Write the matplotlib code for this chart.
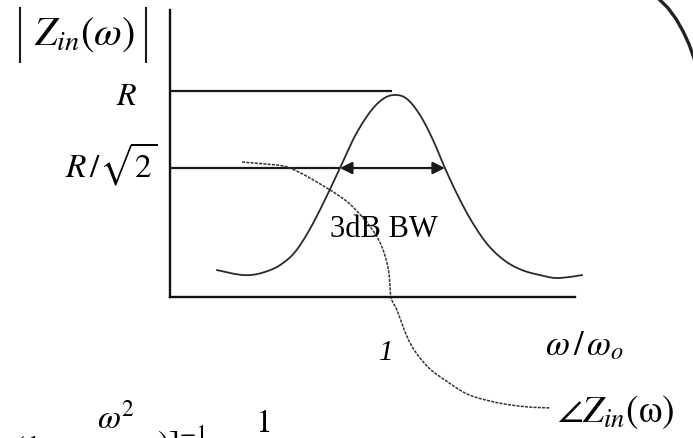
import numpy as np
import matplotlib
matplotlib.use("Agg")
import matplotlib.pyplot as plt

plt.rcParams["mathtext.fontset"] = "stix"
plt.rcParams["font.family"] = ["Liberation Serif", "DejaVu Serif"]

# Normalised frequency w/w0 and |Zin| (in units of R) for the resonance curve
mag_w = [0.213, 0.294, 0.362, 0.430, 0.498, 0.566, 0.633, 0.701, 0.769, 0.837,
         0.905, 0.964, 1.018, 1.072, 1.131, 1.190, 1.244, 1.303, 1.367, 1.439,
         1.516, 1.593, 1.674, 1.742, 1.810, 1.864]
mag_z = [0.319, 0.304, 0.300, 0.312, 0.338, 0.388, 0.475, 0.586, 0.707, 0.829,
         0.920, 0.970, 0.985, 0.970, 0.909, 0.814, 0.707, 0.601, 0.502, 0.414,
         0.354, 0.319, 0.300, 0.289, 0.293, 0.300]

# Phase of Zin (sketched on the same frame, crossing the axis at w/w0 = 1)
ph_w = [0.326, 0.430, 0.543, 0.710, 0.828, 0.937, 0.986, 1.000, 1.027, 1.086,
        1.163, 1.244, 1.344, 1.448, 1.543, 1.629, 1.719]
ph_z = [0.730, 0.722, 0.707, 0.631, 0.559, 0.445, 0.331, 0.217, 0.167, 0.042,
        -0.046, -0.099, -0.152, -0.179, -0.194, -0.202, -0.205]

# Levels marked on the vertical axis
level_R = 1.0
level_3dB = 1 / np.sqrt(2)
bw_edges = [0.769, 1.244]
r_line_end = 1.005

# Part of the circuit outline at the top right
arc_x = [2.217, 2.253, 2.290, 2.321, 2.348, 2.371, 2.389]
arc_y = [1.346, 1.316, 1.274, 1.228, 1.179, 1.125, 1.072]


def smooth(x, y, n=12):
    """Catmull-Rom path through the given points, for a smooth stroke."""
    p = np.column_stack([x, y]).astype(float)
    p = np.vstack([2 * p[0] - p[1], p, 2 * p[-1] - p[-2]])
    out = []
    t = np.linspace(0, 1, n, endpoint=False)[:, None]
    for i in range(1, len(p) - 2):
        p0, p1, p2, p3 = p[i - 1], p[i], p[i + 1], p[i + 2]
        seg = 0.5 * ((2 * p1) + (-p0 + p2) * t + (2 * p0 - 5 * p1 + 4 * p2 - p3) * t ** 2
                     + (-p0 + 3 * p1 - 3 * p2 + p3) * t ** 3)
        out.append(seg)
    out.append(p[-2][None, :])
    s = np.vstack(out)
    return s[:, 0], s[:, 1]


fig = plt.figure(figsize=(6.93, 4.38), dpi=100)
ax = fig.add_axes([170 / 693, (438 - 297) / 438, 405 / 693, 287 / 438])
ax.set_xlim(0, 1.8326)
ax.set_ylim(0.2167, 1.308)
for side in ("top", "right"):
    ax.spines[side].set_visible(False)
for side in ("left", "bottom"):
    ax.spines[side].set_linewidth(1.7)
    ax.spines[side].set_color("#111111")
ax.set_xticks([])
ax.set_yticks([])

ink = "#1a1a1a"

# Reference levels
ax.plot([0, r_line_end], [level_R, level_R], color=ink, lw=1.6, solid_capstyle="butt")
ax.plot([0, bw_edges[0]], [level_3dB, level_3dB], color=ink, lw=1.6, solid_capstyle="butt")
ax.annotate("", xy=(bw_edges[0], level_3dB), xytext=(bw_edges[1], level_3dB),
            arrowprops=dict(arrowstyle="<|-|>", color=ink, lw=1.6,
                            mutation_scale=18, shrinkA=0, shrinkB=0))

# Magnitude response
sx, sy = smooth(mag_w, mag_z)
ax.plot(sx, sy, color="#2a2a2a", lw=1.3, clip_on=False)

# Phase response
px_, py_ = smooth(ph_w, ph_z)
ax.plot(px_, py_, color="#333333", lw=1.1, dashes=(2.0, 0.8), clip_on=False)

# Outline arc
ax.plot(arc_x, arc_y, color="#222222", lw=2.4, clip_on=False)

# |Zin(w)| label with tall magnitude bars
ax.text(-0.389, 1.213, r"$Z_{in}(\omega)$", fontsize=29,
        ha="center", va="center", clip_on=False)
for bx in (-0.679, -0.109):
    ax.plot([bx, bx], [1.111, 1.316], color=ink, lw=1.5, clip_on=False)

ax.text(-0.149, 0.947, r"$R$", fontsize=23, ha="right", va="baseline")
ax.text(-0.059, 0.673, r"$R\,/\sqrt{2}$", fontsize=24, ha="right", va="baseline")
ax.text(0.724, 0.445, "3dB BW", fontsize=22, ha="left", va="baseline",
        family=["Liberation Serif"])
ax.text(0.977, -0.023, "1", fontsize=21, fontstyle="italic",
        family=["Liberation Serif"], ha="center", va="baseline")
ax.text(1.697, -0.004, r"$\omega\,/\,\omega_o$", fontsize=25, ha="left", va="baseline")
ax.text(1.751, -0.259, r"$\angle Z_{in}(\mathrm{\omega})$", fontsize=27,
        ha="left", va="baseline")

# Expression running off the lower edge
ax.text(-0.710, -0.395, r"$(1-$", fontsize=24, ha="left", va="baseline")
ax.text(-0.330, -0.282, r"$\omega^{2}$", fontsize=24, ha="left", va="baseline")
ax.text(-0.059, -0.376, r"$)]^{-1}$", fontsize=24, ha="left", va="baseline")
ax.text(0.385, -0.297, r"$\mathrm{1}$", fontsize=24, ha="left", va="baseline")

fig.savefig("out.png", dpi=100)
